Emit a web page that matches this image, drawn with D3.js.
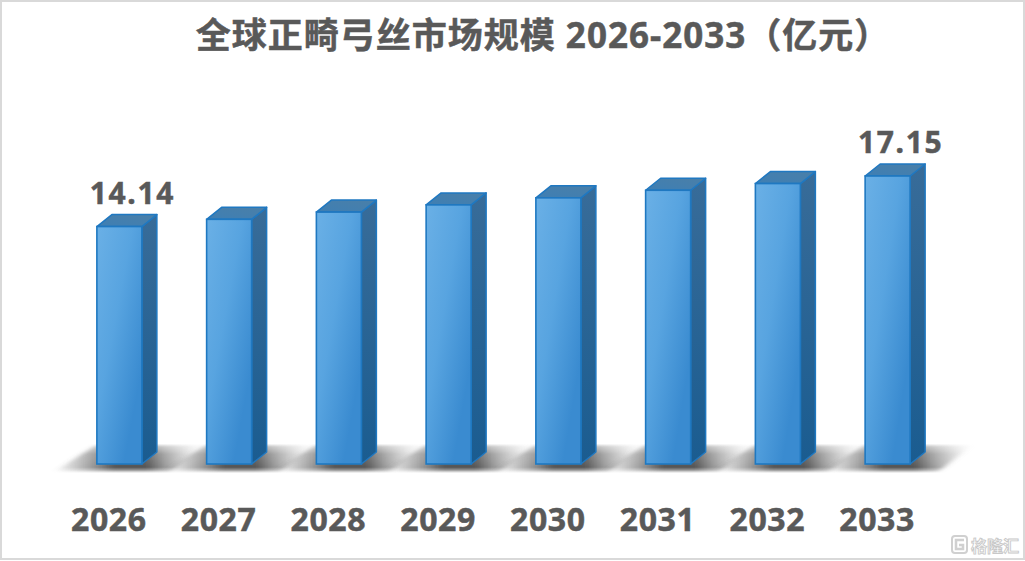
<!DOCTYPE html>
<html><head><meta charset="utf-8">
<script src="https://cdn.jsdelivr.net/npm/d3@7/dist/d3.min.js"></script>
<style>html,body{margin:0;padding:0;background:#fff}svg{display:block}text{font-family:"Noto Sans","Noto Sans CJK SC",sans-serif;font-weight:700;fill:#595959;stroke:#595959;stroke-width:.5px}</style>
</head><body><svg id="c" width="1025" height="561"></svg>
<script>
const years=["2026","2027","2028","2029","2030","2031","2032","2033"];
const values=[14.14,14.57,15.0,15.43,15.85,16.3,16.7,17.15];
const shownLabels=["14.14","","","","","","","17.15"];
const title="全球正畸弓丝市场规模 2026-2033（亿元）";
const W=1025,H=561,base=464,dx=15,dy=12;
const svg=d3.select("#c");
const defs=svg.append("defs");
const x=d3.scaleBand().domain(years).range([65,943]).paddingInner(0).paddingOuter(0);
const y=d3.scaleLinear().domain([0,17.15]).range([base,176]);
const bw=45;
function lg(id,a,b,stops){const g=defs.append("linearGradient").attr("id",id).attr("x1",a[0]).attr("y1",a[1]).attr("x2",b[0]).attr("y2",b[1]);
 stops.forEach(s=>g.append("stop").attr("offset",s[0]).attr("stop-color",s[1]).attr("stop-opacity",s[2]==null?1:s[2]));}
lg("front",[0,0],[.8,.8],[[0,"#6AB0E6"],[.5,"#58A4E0"],[1,"#3A8BD0"]]);
lg("side",[0,0],[0,1],[[0,"#386C99"],[1,"#1A5C90"]]);
lg("top",[0,1],[1,0],[[0,"#3E7FB4"],[1,"#4A7FA8"]]);
lg("shadowH",[0,0],[1,0],[[0,"#666",0],[.2,"#666",.5],[.4,"#555",1],[.62,"#555",1],[.85,"#888",.45],[1,"#aaa",0]]);
lg("fadeV",[0,0],[0,1],[[0,"#fff",.35],[.35,"#fff",.85],[.8,"#fff",1],[1,"#fff",.25]]);
const m=defs.append("mask").attr("id","fade").attr("maskUnits","userSpaceOnUse").attr("x",0).attr("y",440).attr("width",W).attr("height",40);
m.append("rect").attr("x",0).attr("y",444).attr("width",W).attr("height",29).attr("fill","url(#fadeV)");
defs.append("filter").attr("id","blur").attr("x","-20%").attr("y","-20%").attr("width","140%").attr("height","140%").append("feGaussianBlur").attr("stdDeviation","3 1");
svg.append("rect").attr("x",1).attr("y",1).attr("width",W-2).attr("height",H-3).attr("fill","#fff").attr("stroke","#D9D9D9").attr("stroke-width",2).style("stroke-width",2);
svg.append("text").attr("x",543).attr("y",48).attr("text-anchor","middle").attr("font-size",35).style("letter-spacing","1px").text(title);
const sh=svg.append("g").attr("mask","url(#fade)");
sh.selectAll("path").data(years).join("path").attr("filter","url(#blur)").attr("fill","url(#shadowH)")
 .attr("d",d=>{const c=x(d)+x.bandwidth()/2;return `M${c-66},472 L${c-24},445 L${c+84},445 L${c+50},472 Z`;});
const g=svg.selectAll("g.bar").data(years.map((d,i)=>({d,v:values[i],l:shownLabels[i]}))).join("g").attr("class","bar");
const L=d=>x(d.d)+x.bandwidth()/2-bw/2-.5;
g.append("path").attr("fill","url(#side)").attr("stroke","#1F78C1").attr("stroke-width",1.5).attr("stroke-linejoin","round")
 .attr("d",d=>{const l=L(d)+bw,t=y(d.v);return `M${l},${t} l${dx},${-dy} V${base-dy} l${-dx},${dy} Z`;});
g.append("path").attr("fill","url(#top)").attr("stroke","#1F78C1").attr("stroke-width",1.5).attr("stroke-linejoin","round")
 .attr("d",d=>{const l=L(d),t=y(d.v);return `M${l},${t} l${dx},${-dy} h${bw} l${-dx},${dy} Z`;});
g.append("rect").attr("x",L).attr("y",d=>y(d.v)).attr("width",bw).attr("height",d=>base-y(d.v)).attr("fill","url(#front)").attr("stroke","#1F78C1").attr("stroke-width",1.6);
g.append("text").attr("x",d=>L(d)+bw/2+13).attr("y",d=>y(d.v)-23).attr("text-anchor","middle").attr("font-size",30).style("letter-spacing","1.6px").text(d=>d.l);
const ax=svg.append("g").attr("transform","translate(-11,0)").call(d3.axisBottom(x).tickSize(0).tickPadding(0));
ax.select(".domain").remove();
ax.selectAll(".tick text").attr("y",531).attr("dy",0).attr("font-size",32).attr("text-anchor","middle").style("fill","#595959").style("letter-spacing","0.6px");
const wm=svg.append("g");
wm.append("rect").attr("x",952).attr("y",536).attr("width",15).attr("height",17).attr("rx",3).attr("fill","none").attr("stroke","#d0d0d0").attr("stroke-width",2);
wm.append("path").attr("d","M964,540 H956 V549 H963 V545 H959").attr("fill","none").attr("stroke","#d0d0d0").attr("stroke-width",2.5);
wm.append("text").attr("x",971).attr("y",552).attr("font-size",16).style("fill","#fff").style("stroke","#c8c8c8").style("stroke-width",.9).text("格隆汇");
</script></body></html>
